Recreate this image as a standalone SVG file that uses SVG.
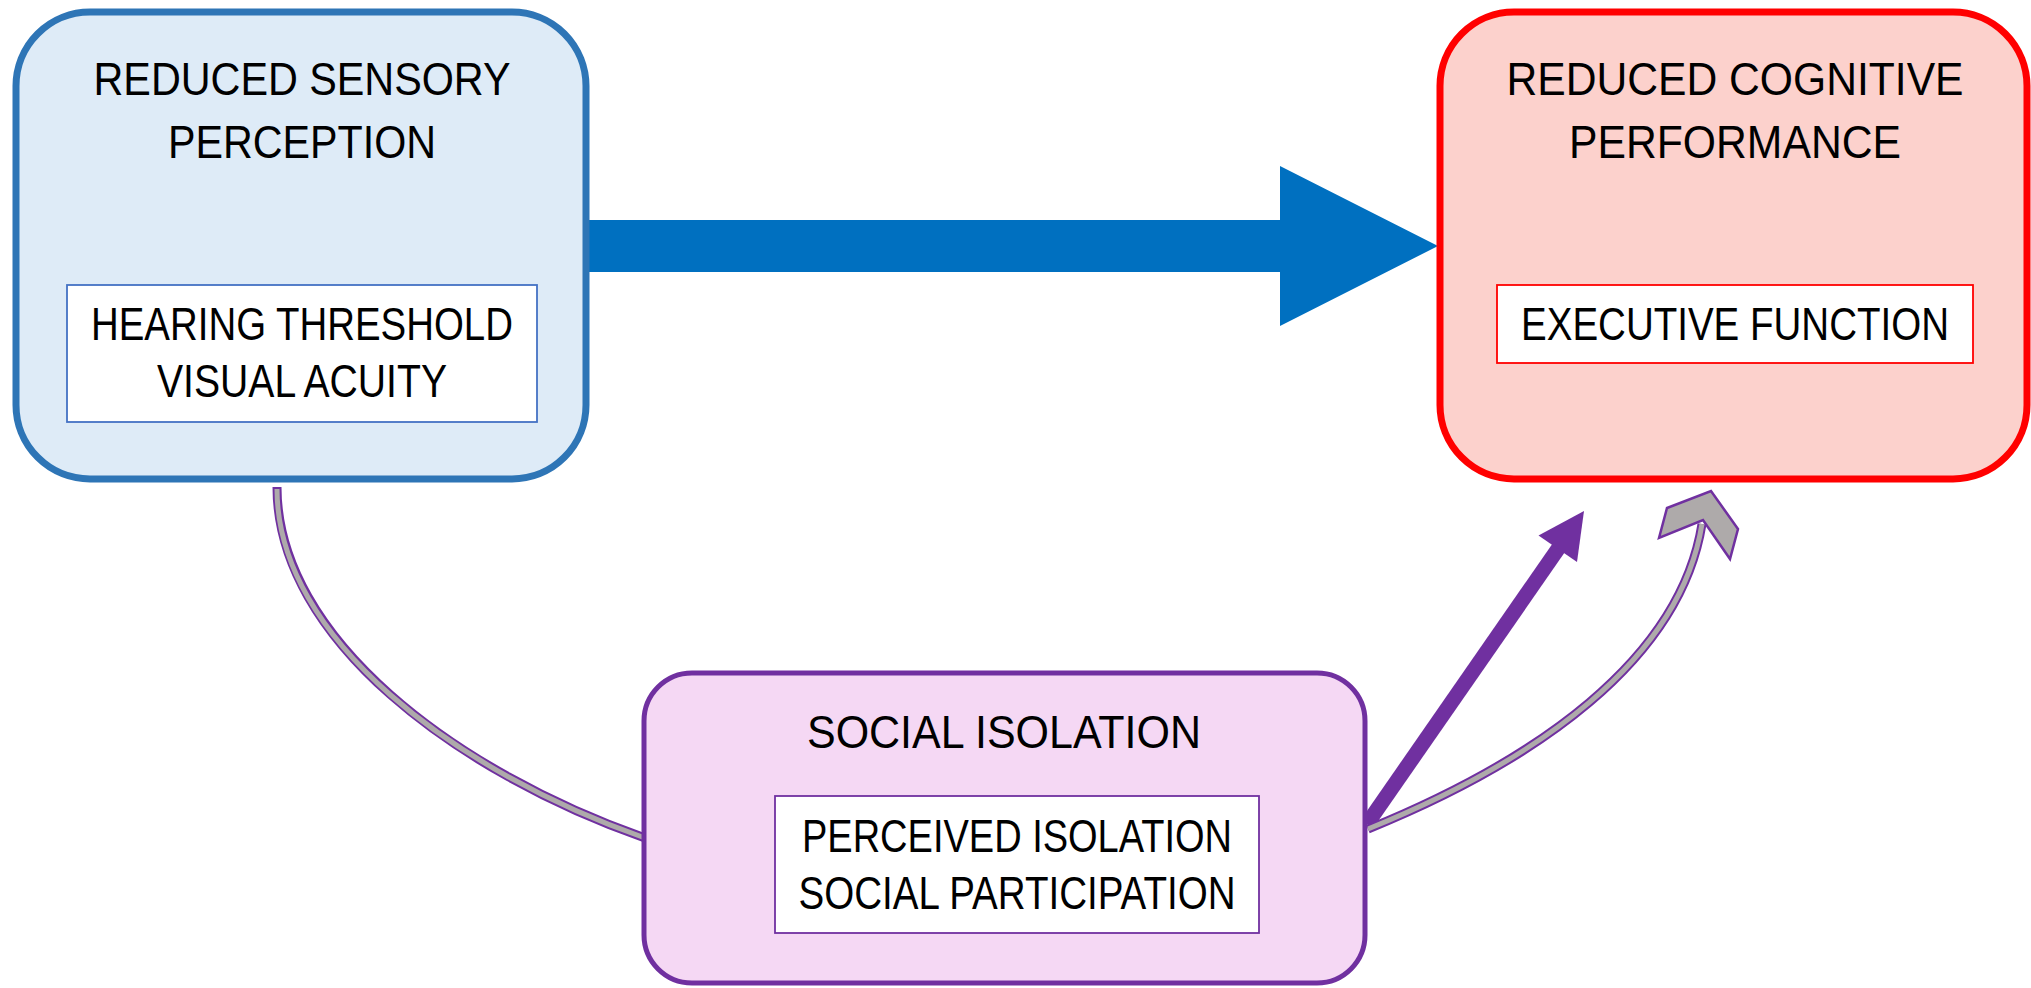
<svg xmlns="http://www.w3.org/2000/svg" width="2031" height="988" viewBox="0 0 2031 988">
  <style>
    .t { font-family: "Liberation Sans", Arial, sans-serif; font-size: 46px; fill: #000; text-anchor: middle; }
    .outer-blue { fill: #DEEBF7; stroke: #2E75B6; stroke-width: 7; }
    .outer-red { fill: #FCD1CC; stroke: #FF0000; stroke-width: 7; }
    .outer-purple { fill: #F5D8F4; stroke: #7030A0; stroke-width: 5; }
    .inner { fill: #FFFFFF; stroke-width: 1.8; }
    .curve-out { fill: none; stroke: #7030A0; stroke-width: 9; }
    .curve-in { fill: none; stroke: #AEAAAA; stroke-width: 5; }
  </style>
  <rect width="2031" height="988" fill="#FFFFFF"/>

  <g id="connectors">
    <!-- blue block arrow: sensory -> cognitive -->
    <polygon points="589,220 1280,220 1280,166 1438,246 1280,326 1280,272 589,272" fill="#0070C0"/>
    <!-- curved connector: sensory -> social isolation -->
    <path class="curve-out" d="M277,487 C277,639 457,772 645,838"/>
    <path class="curve-in" d="M277,489 C277,639 457,772 645,838"/>
    <!-- straight purple arrow: social isolation -> cognitive -->
    <line x1="1367" y1="824" x2="1560" y2="546" stroke="#7030A0" stroke-width="15"/>
    <polygon points="1584,511 1577,562 1538.5,535.5" fill="#7030A0"/>
    <!-- curved connector: social isolation -> cognitive -->
    <path class="curve-out" d="M1368,829 C1535,761 1680,661 1702,524"/>
    <path class="curve-in" d="M1368,829 C1535,761 1680,661 1702,524"/>
    <polygon points="1659,538 1667,508 1711,491 1738,529 1730,559 1703,520" fill="#AEAAAA" stroke="#7030A0" stroke-width="2.5" stroke-linejoin="miter"/>
  </g>

  <g id="node-sensory">
    <rect class="outer-blue" x="16" y="12" width="570" height="467" rx="74" ry="74"/>
    <text class="t" x="302" y="95" textLength="417" lengthAdjust="spacingAndGlyphs">REDUCED SENSORY</text>
    <text class="t" x="302" y="158" textLength="268" lengthAdjust="spacingAndGlyphs">PERCEPTION</text>
    <rect class="inner" x="67" y="285" width="470" height="137" stroke="#4472C4"/>
    <text class="t" x="302" y="340" textLength="422" lengthAdjust="spacingAndGlyphs">HEARING THRESHOLD</text>
    <text class="t" x="302" y="397" textLength="290" lengthAdjust="spacingAndGlyphs">VISUAL ACUITY</text>
  </g>

  <g id="node-cognitive">
    <rect class="outer-red" x="1440" y="12" width="587" height="467" rx="74" ry="74"/>
    <text class="t" x="1735" y="95" textLength="457" lengthAdjust="spacingAndGlyphs">REDUCED COGNITIVE</text>
    <text class="t" x="1735" y="158" textLength="332" lengthAdjust="spacingAndGlyphs">PERFORMANCE</text>
    <rect class="inner" x="1497" y="285" width="476" height="78" stroke="#FF0000"/>
    <text class="t" x="1735" y="340" textLength="428" lengthAdjust="spacingAndGlyphs">EXECUTIVE FUNCTION</text>
  </g>

  <g id="node-social">
    <rect class="outer-purple" x="644" y="673" width="721" height="310" rx="48" ry="48"/>
    <text class="t" x="1004" y="748" textLength="394" lengthAdjust="spacingAndGlyphs">SOCIAL ISOLATION</text>
    <rect class="inner" x="775" y="796" width="484" height="137" stroke="#7030A0"/>
    <text class="t" x="1017" y="852" textLength="430" lengthAdjust="spacingAndGlyphs">PERCEIVED ISOLATION</text>
    <text class="t" x="1017" y="909" textLength="437" lengthAdjust="spacingAndGlyphs">SOCIAL PARTICIPATION</text>
  </g>
</svg>
